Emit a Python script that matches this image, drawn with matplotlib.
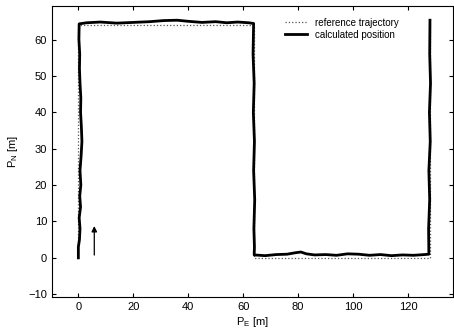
import matplotlib
matplotlib.use('Agg')
import matplotlib.pyplot as plt

# reference trajectory corners
ref_e = [0, 0, 64, 64, 128, 128]
ref_n = [0, 64, 64, 0, 0, 64]

# calculated position
calc_e = [0.0, 0.0, 0.4, 0.6, 0.3, 0.8, 0.5, 0.9, 0.6, 1.0, 1.3, 1.1, 0.8, 0.9, 0.6, 0.4, 0.5, 0.2, 0.3,
          3, 8, 14, 20, 26, 31, 36, 40, 45, 50, 54, 58, 62, 63.8,
          63.6, 64.0, 63.7, 64.1, 63.8, 64.2, 63.9, 64.1, 64.0,
          68, 72, 76, 79, 81, 83, 86, 90, 94, 98, 102, 106, 110, 114, 118, 122, 126, 127.6,
          127.5, 127.9, 127.6, 128.1, 127.8, 128.2, 127.9, 128.0]
calc_n = [0.0, 3, 5, 8, 11, 14, 17, 20, 24, 28, 32, 36, 40, 44, 48, 52, 56, 60, 64.3,
          64.6, 64.8, 64.5, 64.7, 64.9, 65.2, 65.3, 65.0, 64.7, 64.9, 64.6, 64.8, 64.6, 64.4,
          56, 48, 40, 32, 24, 16, 8, 3, 0.8,
          0.6, 0.9, 1.0, 1.4, 1.6, 1.1, 0.8, 0.9, 0.7, 1.1, 1.0, 0.7, 0.9, 0.6, 0.8, 0.7, 0.9, 1.0,
          8, 16, 24, 32, 40, 48, 56, 65.3]

plt.rcParams['font.family'] = ['Liberation Sans', 'DejaVu Sans']

fig = plt.figure(figsize=(4.54, 3.35), dpi=100)
ax = fig.add_axes([0.1145, 0.113, 0.884, 0.869])

ax.plot(ref_e, ref_n, ':', color='#555555', linewidth=0.9, label='reference trajectory')
ax.plot(calc_e, calc_n, '-', color='black', linewidth=2.0, label='calculated position')

ax.annotate('', xy=(5.8, 9.5), xytext=(5.8, 0),
            arrowprops=dict(arrowstyle='-|>', color='black', lw=0.9, mutation_scale=8))

ax.set_xlim(-9.6, 136.5)
ax.set_ylim(-10.8, 69.2)
ax.set_xticks([0, 20, 40, 60, 80, 100, 120])
ax.set_yticks([-10, 0, 10, 20, 30, 40, 50, 60])
ax.tick_params(direction='in', top=True, right=True, labelsize=8, length=3)
ax.set_xlabel('P$_\\mathregular{E}$ [m]', fontsize=8, labelpad=2)
ax.set_ylabel('P$_\\mathregular{N}$ [m]', fontsize=8, labelpad=6)

ax.legend(loc='upper right', bbox_to_anchor=(0.885, 0.99), frameon=False, fontsize=7,
          handlelength=2.2, labelspacing=0.2)

plt.savefig('out.png', dpi=100)
